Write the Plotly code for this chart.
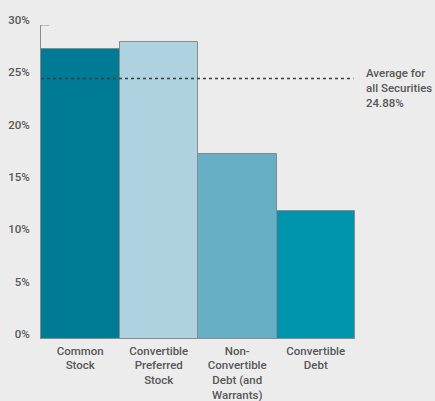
import plotly.graph_objects as go

# Share of offerings by security type (%)
categories = [
    "Common<br>Stock",
    "Convertible<br>Preferred<br>Stock",
    "Non-<br>Convertible<br>Debt (and<br>Warrants)",
    "Convertible<br>Debt",
]
values = [27.7, 28.4, 17.7, 12.2]
bar_colors = ["#007b96", "#aed2df", "#66afc5", "#0094ad"]

average_value = 24.88
average_label = "Average for<br>all Securities<br>24.88%"

y_ticks = [0, 5, 10, 15, 20, 25, 30]
y_tick_text = [f"{t}%" for t in y_ticks]

FONT = "Roboto, sans-serif"
TEXT_COLOR = "#575757"
FONT_SIZE = 11.5

fig = go.Figure(
    go.Bar(
        x=list(range(len(categories))),
        y=values,
        marker=dict(color=bar_colors, line=dict(color="#8a8a8a", width=1)),
        width=1.0,
        hoverinfo="skip",
    )
)

# Average reference line across the bars
fig.add_shape(
    type="line", xref="paper", yref="y",
    x0=0, x1=0.995, y0=average_value, y1=average_value,
    line=dict(color="#3c3c3c", width=1.5, dash="dot"),
)
# Small cap at the top of the value axis
fig.add_shape(
    type="line", xref="paper", yref="y",
    x0=0, x1=0.026, y0=30, y1=30,
    line=dict(color="#8a8a8a", width=1),
)

fig.add_annotation(
    xref="paper", yref="y",
    x=1.029, y=average_value - 0.9,
    text=average_label, showarrow=False,
    xanchor="left", yanchor="middle", align="left",
    font=dict(family=FONT, size=FONT_SIZE, color=TEXT_COLOR, weight=500),
)

fig.update_layout(
    width=435, height=401,
    margin=dict(l=41, r=80, t=25, b=62, autoexpand=False),
    paper_bgcolor="#ececec",
    plot_bgcolor="#ececec",
    showlegend=False,
    bargap=0,
    font=dict(family=FONT, size=FONT_SIZE, color=TEXT_COLOR),
)

fig.update_xaxes(
    range=[-0.5, 3.5],
    tickmode="array",
    tickvals=list(range(len(categories))),
    ticktext=categories,
    showgrid=False, zeroline=False, showline=False,
    ticks="", ticklabelstandoff=3, automargin=False,
    tickfont=dict(family=FONT, size=FONT_SIZE, color=TEXT_COLOR, weight=500),
)

fig.update_yaxes(
    range=[0, 30],
    tickmode="array",
    tickvals=y_ticks,
    ticktext=y_tick_text,
    showgrid=False, zeroline=False,
    showline=True, linecolor="#8a8a8a", linewidth=1,
    ticks="", ticklabelstandoff=8, ticklabelshift=-5, automargin=False,
    tickfont=dict(family=FONT, size=FONT_SIZE, color=TEXT_COLOR, weight=500),
)

fig.write_html("out.html")
